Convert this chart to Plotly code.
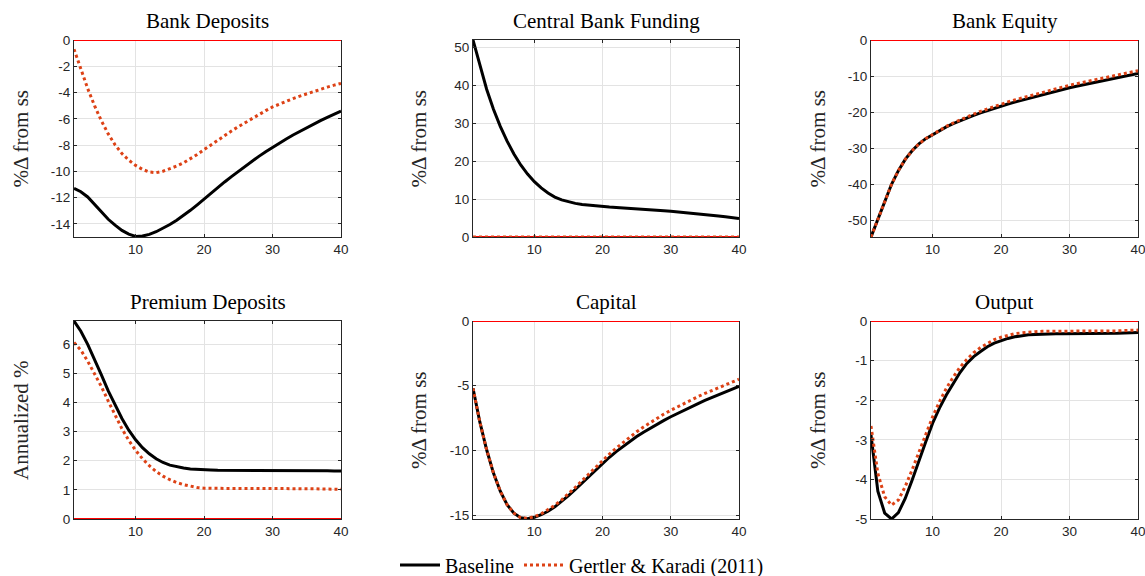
import plotly.graph_objects as go

W, H = 1145, 576

periods = list(range(1, 41))

titles = ["Bank Deposits", "Central Bank Funding", "Bank Equity",
          "Premium Deposits", "Capital", "Output"]
ylabels = ["%Δ from ss", "%Δ from ss", "%Δ from ss",
           "Annualized %", "%Δ from ss", "%Δ from ss"]
legend_names = ["Baseline", "Gertler & Karadi (2011)"]

zero_line = [0.0] * 40

dep_base = [-11.3, -11.55, -11.95, -12.5, -13.1, -13.65, -14.1, -14.5, -14.78, -14.96,
            -14.93, -14.8, -14.6, -14.35, -14.05, -13.72, -13.36, -12.97, -12.55, -12.1,
            -11.66, -11.23, -10.81, -10.4, -10.0, -9.61, -9.23, -8.86, -8.505, -8.165,
            -7.845, -7.535, -7.235, -6.945, -6.665, -6.395, -6.135, -5.885, -5.645, -5.415]
dep_gk = [-0.7, -2.25, -3.7, -5.0, -6.15, -7.15, -7.98, -8.65, -9.15, -9.55,
          -9.85, -10.05, -10.1, -9.99, -9.82, -9.6, -9.35, -9.05, -8.72, -8.35,
          -7.98, -7.62, -7.27, -6.93, -6.6, -6.28, -5.97, -5.67, -5.38, -5.1,
          -4.87, -4.66, -4.46, -4.27, -4.09, -3.92, -3.75, -3.59, -3.44, -3.3]

cbf_base = [52.0, 45.2, 39.0, 33.7, 29.2, 25.3, 21.9, 19.0, 16.6, 14.6,
            12.95, 11.6, 10.55, 9.8, 9.25, 8.88, 8.6, 8.38, 8.18, 8.02,
            7.9, 7.8, 7.7, 7.6, 7.48, 7.36, 7.23, 7.09, 6.94, 6.79,
            6.63, 6.47, 6.3, 6.12, 5.93, 5.74, 5.54, 5.32, 5.08, 4.85]
cbf_gk = [0.0, 0.0, 0.0, 0.0, 0.0, 0.0, 0.0, 0.0, 0.0, 0.0,
          0.0, 0.0, 0.0, 0.0, 0.0, 0.0, 0.0, 0.0, 0.0, 0.0,
          0.0, 0.0, 0.0, 0.0, 0.0, 0.0, 0.0, 0.0, 0.0, 0.0,
          0.0, 0.0, 0.0, 0.0, 0.0, 0.0, 0.0, 0.0, 0.0, 0.0]

eq_base = [-54.6, -49.6, -44.6, -40.0, -36.2, -33.1, -30.7, -28.8, -27.35, -26.2,
           -25.1, -24.1, -23.2, -22.38, -21.61, -20.89, -20.19, -19.53, -18.9, -18.3,
           -17.75, -17.22, -16.7, -16.19, -15.69, -15.19, -14.69, -14.2, -13.72, -13.25,
           -12.83, -12.42, -12.01, -11.61, -11.21, -10.81, -10.42, -10.03, -9.64, -9.25]
eq_gk = [-54.6, -49.6, -44.6, -40.0, -36.2, -33.1, -30.7, -28.8, -27.32, -26.15,
         -25.0, -23.95, -23.0, -22.13, -21.31, -20.54, -19.79, -19.08, -18.4, -17.75,
         -17.15, -16.61, -16.08, -15.56, -15.05, -14.54, -14.03, -13.53, -13.04, -12.55,
         -12.13, -11.71, -11.3, -10.89, -10.48, -10.08, -9.69, -9.29, -8.9, -8.5]

prem_base = [6.8, 6.45, 6.0, 5.5, 4.95, 4.4, 3.9, 3.45, 3.05, 2.72,
             2.45, 2.24, 2.07, 1.94, 1.85, 1.79, 1.75, 1.72, 1.7, 1.69,
             1.68, 1.67, 1.67, 1.67, 1.67, 1.68, 1.68, 1.68, 1.68, 1.68,
             1.68, 1.68, 1.67, 1.67, 1.67, 1.66, 1.66, 1.66, 1.65, 1.65]
prem_gk = [6.06, 5.8, 5.42, 5.0, 4.55, 4.05, 3.55, 3.1, 2.7, 2.36,
           2.07, 1.83, 1.63, 1.47, 1.35, 1.25, 1.18, 1.12, 1.08, 1.06,
           1.05, 1.05, 1.05, 1.05, 1.05, 1.05, 1.05, 1.06, 1.06, 1.06,
           1.06, 1.05, 1.05, 1.05, 1.04, 1.04, 1.03, 1.03, 1.02, 1.02]

cap_base = [-5.2, -7.8, -9.95, -11.75, -13.15, -14.2, -14.85, -15.2, -15.28, -15.17,
            -14.97, -14.7, -14.36, -13.95, -13.5, -13.02, -12.52, -12.01, -11.5, -11.0,
            -10.53, -10.09, -9.68, -9.29, -8.93, -8.59, -8.27, -7.97, -7.68, -7.4,
            -7.13, -6.87, -6.62, -6.38, -6.14, -5.91, -5.68, -5.46, -5.25, -5.05]
cap_gk = [-5.2, -7.8, -9.95, -11.75, -13.15, -14.2, -14.85, -15.2, -15.25, -15.12,
          -14.9, -14.6, -14.24, -13.82, -13.35, -12.85, -12.33, -11.81, -11.28, -10.75,
          -10.28, -9.82, -9.38, -8.96, -8.56, -8.19, -7.84, -7.5, -7.19, -6.9,
          -6.62, -6.35, -6.09, -5.84, -5.6, -5.37, -5.14, -4.92, -4.71, -4.5]

out_base = [-2.88, -4.3, -4.85, -5.0, -4.84, -4.48, -4.02, -3.51, -3.05, -2.58,
            -2.2, -1.87, -1.57, -1.3, -1.07, -0.9, -0.77, -0.65, -0.56, -0.49,
            -0.44, -0.4, -0.37, -0.35, -0.34, -0.33, -0.32, -0.32, -0.32, -0.32,
            -0.32, -0.32, -0.32, -0.32, -0.32, -0.31, -0.31, -0.3, -0.3, -0.29]
out_gk = [-2.65, -3.85, -4.44, -4.65, -4.52, -4.18, -3.76, -3.3, -2.84, -2.42,
          -2.04, -1.7, -1.42, -1.17, -0.97, -0.8, -0.67, -0.56, -0.47, -0.41,
          -0.36, -0.32, -0.3, -0.28, -0.27, -0.26, -0.26, -0.26, -0.26, -0.26,
          -0.26, -0.26, -0.26, -0.26, -0.26, -0.25, -0.25, -0.24, -0.24, -0.23]

baseline_series = [dep_base, cbf_base, eq_base, prem_base, cap_base, out_base]
gk_series = [dep_gk, cbf_gk, eq_gk, prem_gk, cap_gk, out_gk]

y_ranges = [[-15, 0], [0, 52], [-54.6, 0], [0, 6.8], [-15.3, 0], [-5, 0]]
y_tickvals = [[-14, -12, -10, -8, -6, -4, -2, 0],
              [0, 10, 20, 30, 40, 50],
              [-50, -40, -30, -20, -10, 0],
              [0, 1, 2, 3, 4, 5, 6],
              [-15, -10, -5, 0],
              [-5, -4, -3, -2, -1, 0]]
y_ticktext = [["-14", "-12", "-10", "-8", "-6", "-4", "-2", "0"],
              ["0", "10", "20", "30", "40", "50"],
              ["-50", "-40", "-30", "-20", "-10", "0"],
              ["0", "1", "2", "3", "4", "5", "6"],
              ["-15", "-10", "-5", "0"],
              ["-5", "-4", "-3", "-2", "-1", "0"]]
x_tickvals = [10, 20, 30, 40]
x_ticktext = ["10", "20", "30", "40"]

# layout geometry (pixels)
col_px = [(74, 341), (473, 739), (871, 1138)]
row_px = [(40, 237), (321, 519)]
ylab_x = [21, 419, 818]

BLACK = "#000000"
GK_COLOR = "rgb(221,66,22)"
ZERO_COLOR = "#ff0000"
AXIS_COLOR = "#262626"
GRID_COLOR = "#e3e3e3"
SERIF = "Liberation Serif"
SANS = "Liberation Sans"

fig = go.Figure()
annotations = []
layout_axes = {}

for i in range(6):
    r, c = divmod(i, 3)
    sfx = "" if i == 0 else str(i + 1)
    xref, yref = "x" + sfx, "y" + sfx
    x0, x1 = col_px[c]
    yt, yb = row_px[r]
    zero_at_top = y_ranges[i][1] == 0

    fig.add_trace(go.Scatter(x=periods, y=zero_line, xaxis=xref, yaxis=yref,
                             mode="lines", line=dict(color=ZERO_COLOR, width=1.8),
                             showlegend=False, hoverinfo="skip"))
    fig.add_trace(go.Scatter(x=periods, y=baseline_series[i], xaxis=xref, yaxis=yref,
                             mode="lines", name=legend_names[0], legendgroup="base",
                             showlegend=(i == 0),
                             line=dict(color=BLACK, width=3)))
    fig.add_trace(go.Scatter(x=periods, y=gk_series[i], xaxis=xref, yaxis=yref,
                             mode="lines", name=legend_names[1], legendgroup="gk",
                             showlegend=(i == 0),
                             line=dict(color=GK_COLOR, width=3, dash="dot")))

    layout_axes["xaxis" + sfx] = dict(
        domain=[x0 / W, x1 / W], anchor=yref, range=[1, 40],
        tickvals=x_tickvals, ticktext=x_ticktext,
        showgrid=True, gridcolor=GRID_COLOR, gridwidth=1, zeroline=False,
        showline=True, linecolor=AXIS_COLOR, linewidth=1,
        mirror=(False if zero_at_top else "ticks"),
        ticks="inside", ticklen=3, tickcolor=AXIS_COLOR,
        ticklabeloverflow="allow",
        tickfont=dict(family=SANS, size=13.5, color=AXIS_COLOR),
        fixedrange=True)
    layout_axes["yaxis" + sfx] = dict(
        domain=[1 - yb / H, 1 - yt / H], anchor=xref, range=y_ranges[i],
        tickvals=y_tickvals[i], ticktext=y_ticktext[i],
        showgrid=True, gridcolor=GRID_COLOR, gridwidth=1, zeroline=False,
        showline=True, linecolor=AXIS_COLOR, linewidth=1, mirror="ticks",
        ticks="inside", ticklen=3, tickcolor=AXIS_COLOR,
        ticklabeloverflow="allow",
        tickfont=dict(family=SANS, size=13.5, color=AXIS_COLOR),
        fixedrange=True)

    annotations.append(dict(text=titles[i], xref="paper", yref="paper",
                            x=(x0 + x1) / 2 / W, y=1 - (yt - 5) / H,
                            xanchor="center", yanchor="bottom", showarrow=False,
                            font=dict(family=SERIF, size=21, color="#000000")))
    annotations.append(dict(text=ylabels[i], xref="paper", yref="paper",
                            x=ylab_x[c] / W, y=1 - (yt + yb) / 2 / H,
                            xanchor="center", yanchor="middle", textangle=-90,
                            showarrow=False,
                            font=dict(family=SERIF, size=21, color="#262626")))

fig.update_layout(
    width=W, height=H,
    margin=dict(l=0, r=0, t=0, b=0, autoexpand=False),
    paper_bgcolor="white", plot_bgcolor="white",
    annotations=annotations,
    showlegend=True,
    legend=dict(orientation="h", x=582 / W, y=1 - 565 / H,
                xanchor="center", yanchor="middle",
                font=dict(family=SERIF, size=20, color="#000000"),
                bgcolor="rgba(0,0,0,0)", itemwidth=40, tracegroupgap=0),
    **layout_axes,
)

fig.write_html("out.html")
